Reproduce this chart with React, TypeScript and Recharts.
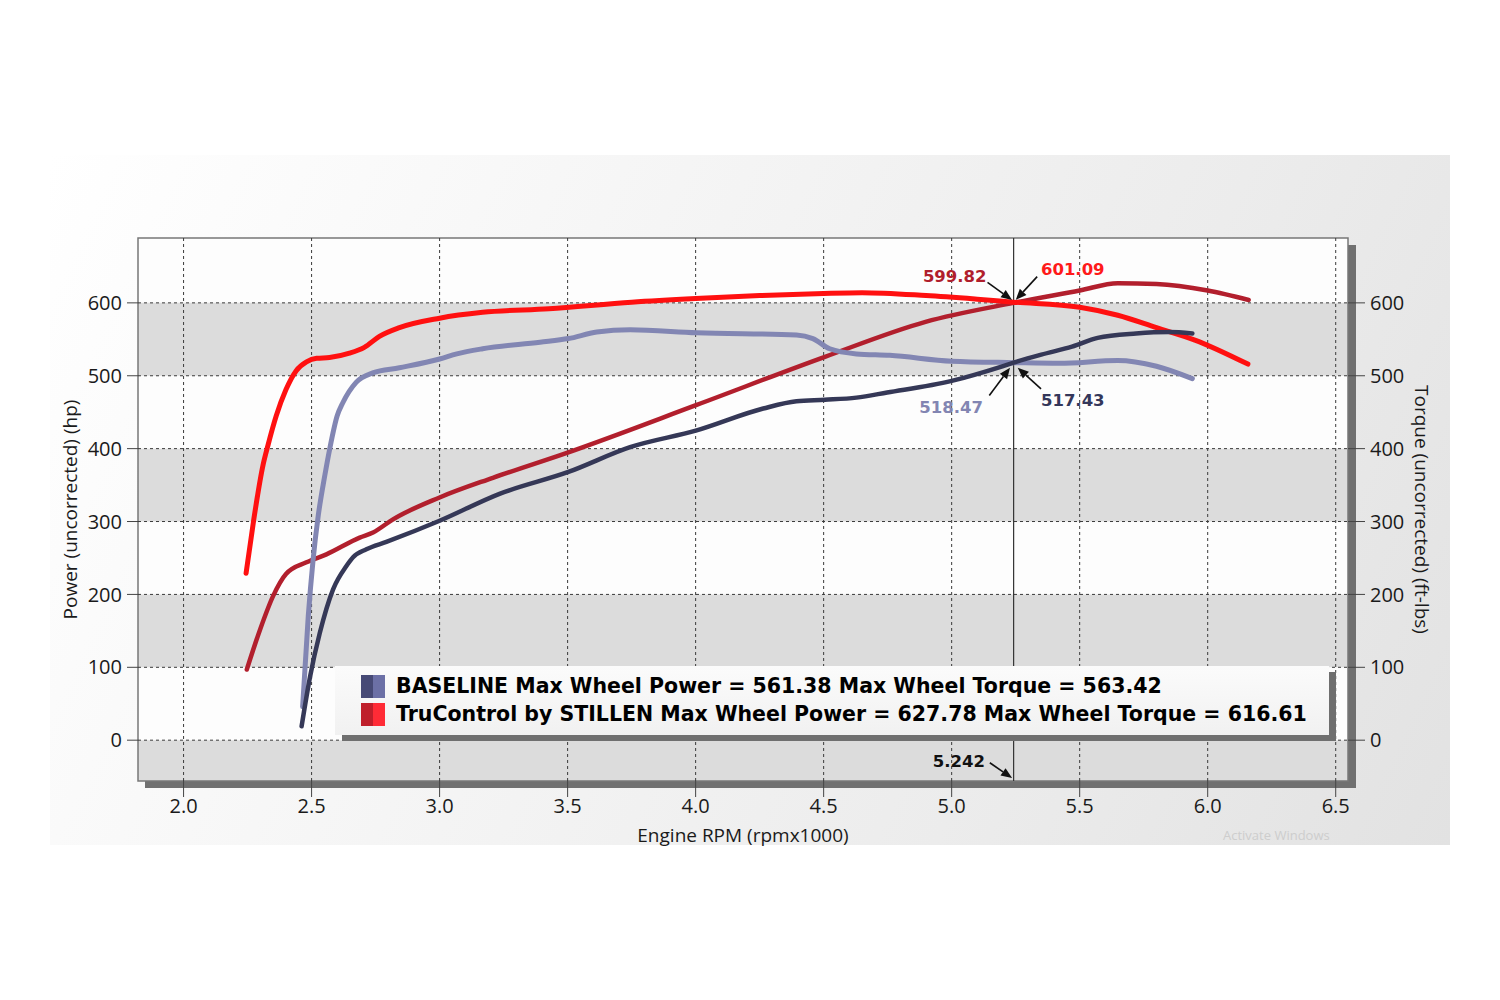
import React from 'react';
import {
  LineChart,
  Line,
  XAxis,
  YAxis,
  ReferenceArea,
  ReferenceLine,
  ReferenceDot,
  Legend,
} from 'recharts';

// ---------- data ----------
const xTicks = [2.0, 2.5, 3.0, 3.5, 4.0, 4.5, 5.0, 5.5, 6.0, 6.5];
const yTicks = [0, 100, 200, 300, 400, 500, 600];
const xDomain = [1.822, 6.548];
const yDomain = [-56, 689];
const bandRanges = [
  [500, 600],
  [300, 400],
  [100, 200],
  [-56, 0],
];

// TruControl by STILLEN - torque (bright red)
const truTorqueRpm = [2.244, 2.273, 2.31, 2.33, 2.362, 2.4, 2.44, 2.48, 2.52, 2.57, 2.648, 2.706, 2.765, 2.843, 3.0, 3.168, 3.427, 3.75, 4.0, 4.25, 4.5, 4.65, 4.9, 5.1, 5.242, 5.5, 5.649, 5.8, 5.95, 6.157];
const truTorqueVal = [229, 300, 377, 405, 445, 481, 507, 519, 524, 525, 531, 539, 554, 566, 579, 587, 592, 601, 606, 610, 613, 614, 610, 605, 601, 594, 583, 566, 549, 516];

// TruControl by STILLEN - power (dark red)
const truPowerRpm = [2.247, 2.299, 2.35, 2.4, 2.48, 2.558, 2.688, 2.74, 2.818, 3.0, 3.208, 3.503, 4.004, 4.505, 4.898, 5.242, 5.5, 5.649, 5.8, 6.0, 6.16];
const truPowerVal = [97, 152, 198, 228, 244, 255, 278, 285, 303, 333, 360, 395, 460, 526, 574, 600, 617, 627, 626, 617, 604];

// BASELINE - torque (light slate)
const baseTorqueRpm = [2.465, 2.487, 2.506, 2.526, 2.552, 2.571, 2.6, 2.622, 2.674, 2.739, 2.843, 3.0, 3.067, 3.168, 3.392, 3.503, 3.614, 3.744, 4.004, 4.394, 4.458, 4.524, 4.628, 4.758, 5.0, 5.242, 5.42, 5.649, 5.8, 5.94];
const baseTorqueVal = [46, 170, 248, 308, 364, 400, 445, 463, 491, 504, 511, 523, 530, 537, 546, 551, 560, 563, 559, 556, 551, 537, 530, 528, 520, 518, 517, 521, 513, 496];

// BASELINE - power (navy)
const basePowerRpm = [2.461, 2.494, 2.532, 2.584, 2.636, 2.662, 2.714, 2.792, 3.0, 3.234, 3.503, 3.744, 4.004, 4.264, 4.394, 4.505, 4.628, 4.748, 5.0, 5.198, 5.242, 5.35, 5.47, 5.57, 5.72, 5.85, 5.94];
const basePowerVal = [19, 87, 147, 207, 239, 251, 262, 272, 301, 338, 368, 402, 425, 455, 465, 467, 470, 477, 493, 513, 518, 529, 540, 552, 558, 560, 558];

const crossRpm = 5.242;

const annotationLabels = [
  { text: '599.82', rpm: 5.012, val: 636, color: '#b01e2c' },
  { text: '601.09', rpm: 5.473, val: 646, color: '#ff1a1a' },
  { text: '518.47', rpm: 4.998, val: 457, color: '#8285b2' },
  { text: '517.43', rpm: 5.473, val: 466, color: '#34375a' },
  { text: '5.242', rpm: 5.028, val: -29, color: '#111111' },
];

const annotationArrows = [
  { from: [5.14, 628], to: [5.236, 604] },
  { from: [5.334, 636], to: [5.25, 604] },
  { from: [5.147, 473], to: [5.228, 511] },
  { from: [5.349, 482], to: [5.258, 511] },
  { from: [5.149, -31], to: [5.236, -52] },
];

const legendRows = [
  { text: 'BASELINE Max Wheel Power = 561.38 Max Wheel Torque = 563.42', c1: '#474a76', c2: '#6c70a6' },
  { text: 'TruControl by STILLEN Max Wheel Power = 627.78 Max Wheel Torque = 616.61', c1: '#bf1f2b', c2: '#ff2b36' },
];

const toPoints = (rpm: number[], val: number[]) => rpm.map((r, i) => ({ rpm: r, v: val[i] }));

// ---------- shapes ----------
const Arrow = (props: any) => {
  const { x1, y1, x2, y2 } = props;
  if ([x1, y1, x2, y2].some((v) => typeof v !== 'number' || isNaN(v))) return null;
  const ang = Math.atan2(y2 - y1, x2 - x1);
  const L = 11;
  const W = 4.5;
  const bx = x2 - L * Math.cos(ang);
  const by = y2 - L * Math.sin(ang);
  const p1x = bx + W * Math.sin(ang);
  const p1y = by - W * Math.cos(ang);
  const p2x = bx - W * Math.sin(ang);
  const p2y = by + W * Math.cos(ang);
  return (
    <g>
      <line x1={x1} y1={y1} x2={bx} y2={by} stroke="#111" strokeWidth={1.6} />
      <polygon points={`${x2},${y2} ${p1x},${p1y} ${p2x},${p2y}`} fill="#111" />
    </g>
  );
};

const makeTextShape = (text: string, color: string) => (props: any) => (
  <text
    x={props.cx}
    y={props.cy}
    textAnchor="middle"
    dominantBaseline="central"
    fill={color}
    style={{ fontFamily: 'DejaVu Sans', fontWeight: 700, fontSize: 16.5 }}
  >
    {text}
  </text>
);

const LegendBox = () => (
  <div style={{ position: 'relative', width: 994, height: 69 }}>
    <div
      style={{
        position: 'absolute',
        left: 7,
        top: 6,
        width: 994,
        height: 69,
        background: '#6f6f6f',
      }}
    />
    <div
      style={{
        position: 'absolute',
        left: 0,
        top: 0,
        width: 994,
        height: 69,
        background: 'linear-gradient(180deg, #fbfbfb, #f1f1f1)',
      }}
    >
      {legendRows.map((r, i) => (
        <div
          key={i}
          style={{
            position: 'absolute',
            left: 26,
            top: 9 + i * 28,
            height: 23,
            display: 'flex',
            alignItems: 'center',
          }}
        >
          <div style={{ width: 12, height: 23, background: r.c1 }} />
          <div style={{ width: 12, height: 23, background: r.c2 }} />
          <div
            style={{
              marginLeft: 11,
              fontFamily: 'DejaVu Sans',
              fontWeight: 700,
              fontSize: 20.5,
              color: '#000',
              whiteSpace: 'nowrap',
              lineHeight: '23px',
            }}
          >
            {r.text}
          </div>
        </div>
      ))}
    </div>
  </div>
);

const tickStyle = { fontFamily: 'Open Sans', fontSize: 20, fill: '#1a1a1a' };

export default function App() {
  return (
    <div style={{ position: 'absolute', left: 0, top: 0, width: 1500, height: 1000, background: '#fff', overflow: 'hidden' }}>
      <div
        style={{
          position: 'absolute',
          left: 50,
          top: 155,
          width: 1400,
          height: 690,
          background: 'linear-gradient(115deg, #ffffff 0%, #f7f7f7 30%, #ececec 70%, #e2e2e2 100%)',
          overflow: 'hidden',
        }}
      >
        <div style={{ position: 'absolute', left: 1173, top: 672, fontFamily: 'Open Sans', fontSize: 13, lineHeight: '16px', color: '#cdcdcd' }}>
          Activate Windows
        </div>
      </div>
      {/* plot frame shadow */}
      <div style={{ position: 'absolute', left: 1348, top: 245, width: 8, height: 543, background: '#707070' }} />
      <div style={{ position: 'absolute', left: 145, top: 781, width: 1211, height: 7, background: '#707070' }} />
      <div style={{ position: 'absolute', left: 0, top: 0 }}>
        <LineChart width={1500} height={1000} margin={{ top: 238, left: 68, right: 52, bottom: 149 }}>
          <XAxis
            dataKey="rpm"
            type="number"
            domain={xDomain}
            ticks={xTicks}
            allowDataOverflow
            tickFormatter={(v: number) => v.toFixed(1)}
            axisLine={false}
            tickLine={{ stroke: '#444' }}
            tickSize={16}
            tickMargin={2}
            tick={tickStyle}
            height={70}
            label={{
              value: 'Engine RPM (rpmx1000)',
              position: 'insideBottom',
              offset: 9,
              style: { fontFamily: 'Open Sans', fontSize: 19, fill: '#1a1a1a' },
            }}
          />
          <YAxis
            yAxisId="left"
            type="number"
            domain={yDomain}
            ticks={yTicks}
            allowDataOverflow
            axisLine={false}
            tickLine={{ stroke: '#444' }}
            tickSize={11}
            tickMargin={5}
            tick={tickStyle}
            width={70}
            label={{
              value: 'Power (uncorrected) (hp)',
              angle: -90,
              position: 'insideLeft',
              offset: 2,
              style: { textAnchor: 'middle', fontFamily: 'Open Sans', fontSize: 19, fill: '#1a1a1a' },
            }}
          />
          <YAxis
            yAxisId="right"
            orientation="right"
            type="number"
            domain={yDomain}
            ticks={yTicks}
            allowDataOverflow
            axisLine={false}
            tickLine={{ stroke: '#444' }}
            tickSize={17}
            tickMargin={5}
            tick={tickStyle}
            width={100}
            label={{
              value: 'Torque (uncorrected) (ft-lbs)',
              angle: 90,
              position: 'insideRight',
              offset: 26,
              style: { textAnchor: 'middle', fontFamily: 'Open Sans', fontSize: 19, fill: '#1a1a1a' },
            }}
          />

          {/* plot background + alternating bands */}
          <ReferenceArea yAxisId="left" x1={xDomain[0]} x2={xDomain[1]} y1={yDomain[0]} y2={yDomain[1]} fill="#fdfdfd" fillOpacity={1} stroke="none" />
          {bandRanges.map((b, i) => (
            <ReferenceArea key={i} yAxisId="left" x1={xDomain[0]} x2={xDomain[1]} y1={b[0]} y2={b[1]} fill="#dcdcdc" fillOpacity={1} stroke="none" />
          ))}

          {/* dashed grid */}
          {xTicks.map((t) => (
            <ReferenceLine key={'gx' + t} yAxisId="left" x={t} stroke="#3a3a3a" strokeWidth={1} strokeDasharray="3 3" />
          ))}
          {yTicks.map((t) => (
            <ReferenceLine key={'gy' + t} yAxisId="left" y={t} stroke="#3a3a3a" strokeWidth={1} strokeDasharray="3 3" />
          ))}

          <ReferenceLine yAxisId="left" x={crossRpm} stroke="#333" strokeWidth={1.2} />

          {/* plot border */}
          <ReferenceArea yAxisId="left" x1={xDomain[0]} x2={xDomain[1]} y1={yDomain[0]} y2={yDomain[1]} fill="none" stroke="#777" strokeWidth={1.5} />

          <Line yAxisId="left" data={toPoints(truPowerRpm, truPowerVal)} dataKey="v" type="monotone" stroke="#b21f2d" strokeWidth={4.5} dot={false} isAnimationActive={false} strokeLinecap="round" />
          <Line yAxisId="right" data={toPoints(truTorqueRpm, truTorqueVal)} dataKey="v" type="monotone" stroke="#ff1010" strokeWidth={5} dot={false} isAnimationActive={false} strokeLinecap="round" />
          <Line yAxisId="right" data={toPoints(baseTorqueRpm, baseTorqueVal)} dataKey="v" type="monotone" stroke="#8286b3" strokeWidth={5} dot={false} isAnimationActive={false} strokeLinecap="round" />
          <Line yAxisId="left" data={toPoints(basePowerRpm, basePowerVal)} dataKey="v" type="monotone" stroke="#353857" strokeWidth={4.5} dot={false} isAnimationActive={false} strokeLinecap="round" />

          {annotationArrows.map((a, i) => (
            <ReferenceLine
              key={'a' + i}
              yAxisId="left"
              segment={[
                { x: a.from[0], y: a.from[1] },
                { x: a.to[0], y: a.to[1] },
              ]}
              shape={Arrow}
              ifOverflow="visible"
            />
          ))}
          {annotationLabels.map((l, i) => (
            <ReferenceDot
              key={'l' + i}
              yAxisId="left"
              x={l.rpm}
              y={l.val}
              r={0}
              ifOverflow="visible"
              shape={makeTextShape(l.text, l.color)}
            />
          ))}

          <Legend
            layout="horizontal"
            verticalAlign="middle"
            align="center"
            content={() => <LegendBox />}
            wrapperStyle={{ left: 335, top: 666, width: 1001, height: 75 }}
          />
        </LineChart>
      </div>
    </div>
  );
}
